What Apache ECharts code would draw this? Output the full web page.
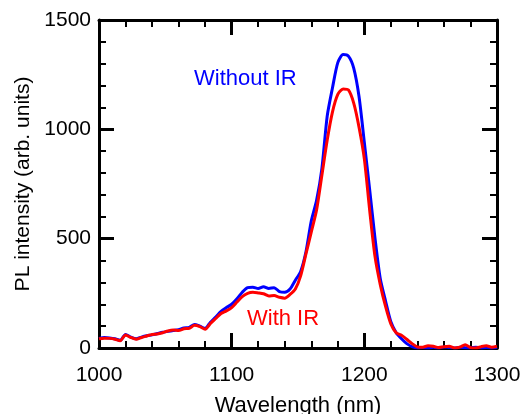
<!DOCTYPE html>
<html>
<head>
<meta charset="utf-8">
<script src="https://cdn.jsdelivr.net/npm/echarts@6/dist/echarts.min.js"></script>
<style>html,body{margin:0;padding:0;background:#fff}#c{width:524px;height:414px}</style>
</head>
<body>
<div id="c"></div>
<script>
var wavelength = [1000,1004,1008,1012,1016,1020,1024,1028,1032,1036,1040,1044,1048,1052,1056,1060,1064,1068,1072,1076,1080,1084,1088,1092,1096,1100,1104,1108,1112,1116,1120,1124,1128,1132,1136,1140,1144,1148,1152,1156,1160,1164,1168,1172,1176,1180,1184,1188,1192,1196,1200,1204,1208,1212,1216,1220,1224,1228,1232,1236,1240,1244,1248,1252,1256,1260,1264,1268,1272,1276,1280,1284,1288,1292,1296,1300];
var withoutIR = [44,48,46,42,35,62,50,42,50,56,60,66,72,76,80,84,92,94,108,100,90,118,142,168,185,200,225,255,276,278,272,280,272,276,258,255,270,310,350,440,580,675,820,1060,1190,1305,1342,1335,1280,1150,940,725,505,318,215,120,70,42,20,6,0,2,0,3,0,5,2,0,3,1,0,4,0,2,0,3];
var withIR = [42,45,44,40,33,60,48,40,48,55,62,64,70,78,82,80,88,90,104,98,86,112,135,158,170,185,210,235,250,255,252,248,238,240,232,228,245,270,330,430,530,631,790,950,1080,1160,1185,1180,1120,1010,865,631,420,290,190,110,70,58,40,20,5,4,10,8,2,6,8,0,4,15,2,0,6,10,4,8];
var xTicks = [1000,1100,1200,1300];
var yTicks = [0,500,1000,1500];
var labelWithout = 'Without IR';
var labelWith = 'With IR';

function pairs(xs, ys){ return xs.map(function(x,i){ return [x, ys[i]]; }); }

var font = 'Liberation Sans, Arial, Helvetica, sans-serif';
var axisCommon = function(extra){
  var o = {
    axisLine: {show: true, onZero: false, lineStyle: {color: '#000', width: 3}},
    axisTick: {show: true, inside: true, length: 15, lineStyle: {color: '#000', width: 3}},
    minorTick: {show: true, splitNumber: 5, length: 7, lineStyle: {color: '#000', width: 2}},
    splitLine: {show: false},
    minorSplitLine: {show: false}
  };
  for (var k in extra) o[k] = extra[k];
  return o;
};
var plain = function(v){ return String(v); };

var chart = echarts.init(document.getElementById('c'), null, {renderer: 'canvas'});
chart.setOption({
  animation: false,
  backgroundColor: '#fff',
  grid: {left: 99, right: 27, top: 20, bottom: 66, containLabel: false, outerBoundsMode: 'none'},
  xAxis: [
    axisCommon({type: 'value', min: xTicks[0], max: xTicks[xTicks.length-1], interval: 100, position: 'bottom',
      name: 'Wavelength (nm)', nameLocation: 'middle', nameGap: 47,
      nameTextStyle: {fontFamily: font, fontSize: 22, color: '#000'},
      axisLabel: {show: true, margin: 17, fontFamily: font, fontSize: 21, color: '#000', formatter: plain}}),
    axisCommon({type: 'value', min: xTicks[0], max: xTicks[xTicks.length-1], interval: 100, position: 'top',
      axisLabel: {show: false}})
  ],
  yAxis: [
    axisCommon({type: 'value', min: yTicks[0], max: yTicks[yTicks.length-1], interval: 500, position: 'left',
      name: 'PL intensity (arb. units)', nameLocation: 'middle', nameGap: 65,
      nameTextStyle: {fontFamily: font, fontSize: 21, color: '#000'},
      axisLabel: {show: true, margin: 8, fontFamily: font, fontSize: 21, color: '#000', formatter: plain}}),
    axisCommon({type: 'value', min: yTicks[0], max: yTicks[yTicks.length-1], interval: 500, position: 'right',
      axisLabel: {show: false}})
  ],
  series: [
    {type: 'line', name: labelWithout, data: pairs(wavelength, withoutIR), showSymbol: false, smooth: 0.25,
      lineStyle: {color: '#0000ff', width: 3}, itemStyle: {color: '#0000ff'}, z: 2},
    {type: 'line', name: labelWith, data: pairs(wavelength, withIR), showSymbol: false, smooth: 0.25,
      lineStyle: {color: '#ff0000', width: 3}, itemStyle: {color: '#ff0000'}, z: 3}
  ],
  graphic: [
    {type: 'text', left: 194, top: 68, style: {text: labelWithout, fontFamily: font, fontSize: 22, fill: '#0000ff'}},
    {type: 'text', left: 247, top: 308, style: {text: labelWith, fontFamily: font, fontSize: 22, fill: '#ff0000'}}
  ]
});
</script>
</body>
</html>
